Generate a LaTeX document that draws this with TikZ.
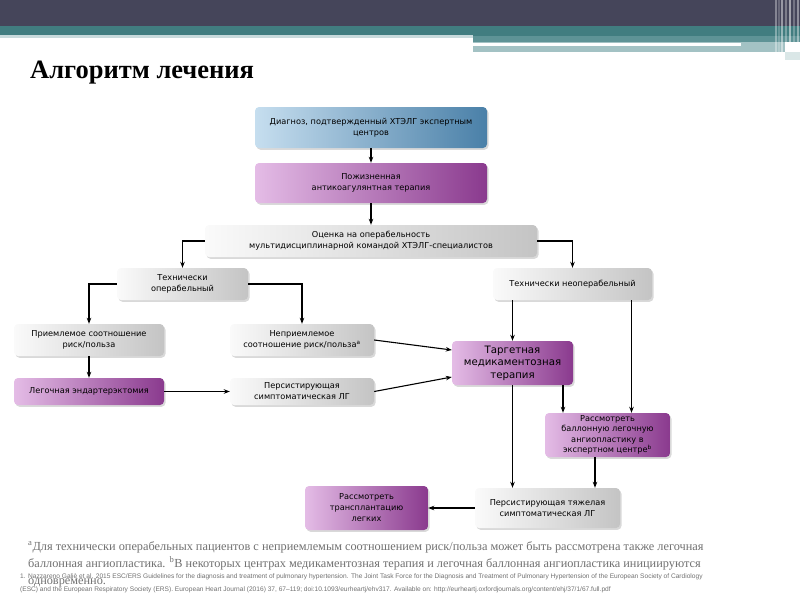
\documentclass[tikz,border=0pt]{standalone}
\usepackage{fontspec}
\setmainfont{Liberation Serif}
\setsansfont{DejaVu Sans}
\newfontfamily\arialf{Liberation Sans}
\usetikzlibrary{arrows.meta,shadows}
\definecolor{hdark}{HTML}{45455A}
\definecolor{hteal}{HTML}{417D80}
\definecolor{hmid}{HTML}{5E9396}
\definecolor{hlight}{HTML}{A3C2C4}
\definecolor{pL}{HTML}{E4BCE6}
\definecolor{pR}{HTML}{8A3A8E}
\definecolor{bL}{HTML}{C6DEEF}
\definecolor{bR}{HTML}{4A80A8}
\definecolor{gL}{HTML}{FAFAFA}
\definecolor{gR}{HTML}{C4C4C4}
\definecolor{fgrey}{HTML}{707070}
\tikzset{
  fbox/.style={rounded corners=4pt, draw=none, align=center, inner sep=0pt,
    font=\sffamily\fontsize{8.2}{11}\selectfont,
    drop shadow={shadow xshift=1.5pt, shadow yshift=-1.8pt, opacity=0.3}},
  greybox/.style={fbox, left color=gL, right color=gR},
  purplebox/.style={fbox, left color=pL, right color=pR},
  bluebox/.style={fbox, left color=bL, right color=bR},
  conn/.style={line width=1.1pt, -{Stealth[length=6pt,width=4.5pt]}},
}
\begin{document}
\begin{tikzpicture}[x=1pt,y=-1pt]
\useasboundingbox (0,0) rectangle (800,600);
% header
\fill[hdark] (0,0) rectangle (800,26);
\fill[hteal] (0,26) rectangle (473,34.5);
\fill[hlight!60] (0,34.5) rectangle (473,38);
\fill[hteal] (473,26) rectangle (800,36);
\fill[hmid] (473,36) rectangle (800,42);
\fill[hlight] (473,42) rectangle (785,52);
\fill[white] (473,42.5) rectangle (741,46);
\foreach \xx/\op in {775/0.35,778/0.2,781/0.45,785/0.3,789/0.5,793/0.25,797/0.4}
  \fill[white,opacity=\op] (\xx,0) rectangle (\xx+1.5,56);
\fill[hlight!40] (785,52) rectangle (800,60);
% title
\node[anchor=base west, inner sep=0, font=\bfseries\fontsize{26.5}{30}\selectfont] (title) at (30,78) {Алгоритм лечения};
% boxes
\node[bluebox, minimum width=232, minimum height=41] (diag) at (371,127.5) {Диагноз, подтвержденный ХТЭЛГ экспертным\\центров};
\node[purplebox, minimum width=232, minimum height=40] (life) at (371,183) {Пожизненная\\антикоагулянтная терапия};
\node[greybox, minimum width=332, minimum height=32] (eval) at (371,241) {Оценка на операбельность\\мультидисциплинарной командой ХТЭЛГ-специалистов};
\node[greybox, minimum width=131, minimum height=32] (top) at (182.5,284) {Технически\\операбельный};
\node[greybox, minimum width=159, minimum height=32] (tinop) at (572.5,284) {Технически неоперабельный};
\node[greybox, minimum width=150, minimum height=32] (acc) at (89,340) {Приемлемое соотношение\\риск/польза};
\node[greybox, minimum width=144, minimum height=32] (unacc) at (302,340) {Неприемлемое\\соотношение риск/польза\textsuperscript{a}};
\node[purplebox, minimum width=150, minimum height=27] (pea) at (89,391.5) {Легочная эндартерэктомия};
\node[greybox, minimum width=144, minimum height=27] (pers) at (302,391.5) {Персистирующая\\симптоматическая ЛГ};
\node[purplebox, minimum width=121, minimum height=44, font=\sffamily\fontsize{10.2}{12.5}\selectfont] (targ) at (512.5,363) {Таргетная\\медикаментозная\\терапия};
\node[purplebox, minimum width=125, minimum height=44, font=\sffamily\fontsize{8.2}{10.4}\selectfont] (bpa) at (607.5,435) {Рассмотреть\\баллонную легочную\\ангиопластику в\\экспертном центре\textsuperscript{b}};
\node[greybox, minimum width=145, minimum height=40] (sev) at (547.5,508) {Персистирующая тяжелая\\симптоматическая ЛГ};
\node[purplebox, minimum width=123, minimum height=44] (tx) at (366.5,508) {Рассмотреть\\трансплантацию\\легких};
% connectors
\draw[conn] (diag) -- (life);
\draw[conn] (life) -- (eval);
\draw[conn] (eval.west) -| (top.north);
\draw[conn] (eval.east) -| (tinop.north);
\draw[conn] (top.west) -| (acc.north);
\draw[conn] (top.east) -| (unacc.north);
\draw[conn] (acc) -- (pea);
\draw[conn] (pea) -- (pers);
\draw[conn] (unacc.east) -- ([yshift=13]targ.west);
\draw[conn] (pers.east) -- ([yshift=-14]targ.west);
\draw[conn] (tinop.south -| targ.north) -- (targ.north);
\draw[conn] ([xshift=59]tinop.south) -- ([xshift=59]tinop.south |- bpa.north);
\draw[conn] ([xshift=50.5]targ.south) -- ([xshift=50.5]targ.south |- bpa.north);
\draw[conn] (targ.south) -- (targ.south |- sev.north);
\draw[conn] ([xshift=-12.5]bpa.south) -- ([xshift=-12.5]bpa.south |- sev.north);
\draw[conn] (sev) -- (tx);
% footnotes
\node[anchor=north west, inner sep=0, align=left, text=fgrey, font=\fontsize{12.3}{17}\selectfont] (fn) at (28,541)
{\textsuperscript{a}Для технически операбельных пациентов с неприемлемым соотношением риск/польза может быть рассмотрена также легочная\\
баллонная ангиопластика. \textsuperscript{b}В некоторых центрах медикаментозная терапия и легочная баллонная ангиопластика инициируются\\
одновременно.};
\node[anchor=north west, inner sep=0, align=left, text=fgrey, font=\arialf\fontsize{6.6}{12.5}\selectfont] (ref) at (20,573.5)
{1. Nazzareno Galiè et al. 2015 ESC/ERS Guidelines for the diagnosis and treatment of pulmonary hypertension. The Joint Task Force for the Diagnosis and Treatment of Pulmonary Hypertension of the European Society of Cardiology\\
(ESC) and the European Respiratory Society (ERS). European Heart Journal (2016) 37, 67–119; doi:10.1093/eurheartj/ehv317. Available on: http://eurheartj.oxfordjournals.org/content/ehj/37/1/67.full.pdf};
\end{tikzpicture}
\end{document}
